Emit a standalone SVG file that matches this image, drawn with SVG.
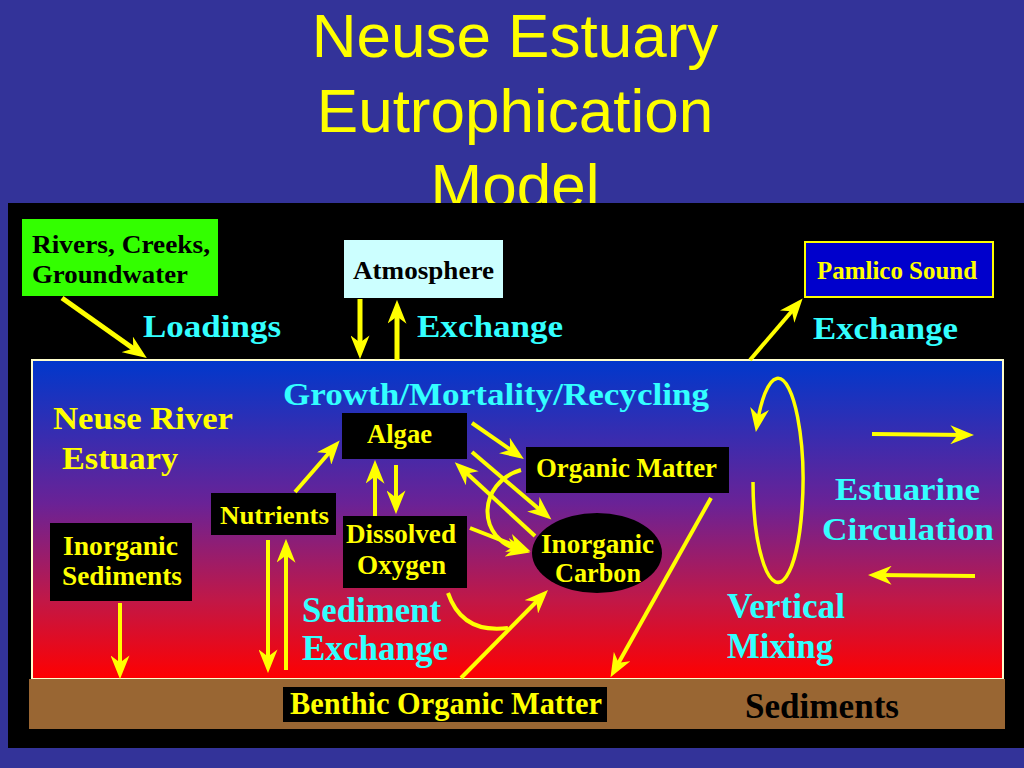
<svg xmlns="http://www.w3.org/2000/svg" width="1024" height="768" viewBox="0 0 1024 768">
<defs>
<linearGradient id="water" x1="0" y1="0" x2="0" y2="1">
<stop offset="0" stop-color="#0038cc"/>
<stop offset="0.45" stop-color="#6a2296"/>
<stop offset="0.75" stop-color="#c01848"/>
<stop offset="1" stop-color="#ff0000"/>
</linearGradient>
<marker id="ah" viewBox="0 0 20 16" refX="14" refY="8" markerWidth="24" markerHeight="19" orient="auto" markerUnits="userSpaceOnUse">
<path d="M0,0 L20,8 L0,16 L6,8 z" fill="#ffff00"/>
</marker>
</defs>
<style>
.title{font-family:"Liberation Sans",Arial,sans-serif;font-size:62px;fill:#ffff00;text-anchor:middle}
.cy{font-family:"Liberation Serif","Times New Roman",serif;font-weight:bold;font-size:32px;fill:#33ffff}
.yl{font-family:"Liberation Serif","Times New Roman",serif;font-weight:bold;font-size:27px;fill:#ffff00}
.bk{font-family:"Liberation Serif","Times New Roman",serif;font-weight:bold;font-size:26px;fill:#000000}
.arr{fill:none;stroke:#ffff00;stroke-width:4;marker-end:url(#ah)}
.thick{stroke-width:5}
.ln{fill:none;stroke:#ffff00;stroke-width:4}
.blk{fill:#000000}
</style>
<rect x="0" y="0" width="1024" height="768" fill="#333399"/>
<g id="title">
<text class="title" x="515" y="57">Neuse Estuary</text>
<text class="title" x="515" y="132">Eutrophication</text>
<text class="title" x="515" y="207">Model</text>
</g>
<rect id="panel" x="8" y="203" width="1016" height="545" fill="#000000"/>
<g id="estuary">
<rect x="32" y="360" width="971" height="319" fill="url(#water)" stroke="#ffffcc" stroke-width="2"/>
<text class="cy" x="283" y="405" textLength="426" lengthAdjust="spacingAndGlyphs">Growth/Mortality/Recycling</text>
<text class="yl" style="font-size:32px" x="53" y="429" textLength="180" lengthAdjust="spacingAndGlyphs">Neuse River</text>
<text class="yl" style="font-size:32px" x="62" y="469" textLength="116" lengthAdjust="spacingAndGlyphs">Estuary</text>
</g>
<g id="sediments">
<rect x="29" y="679" width="976" height="50" fill="#996633"/>
<text class="bk" style="font-size:36px" x="745" y="718" textLength="154" lengthAdjust="spacingAndGlyphs">Sediments</text>
</g>
<g id="rivers">
<rect x="22" y="219" width="196" height="77" fill="#33ff00"/>
<text class="bk" x="32" y="253" textLength="178" lengthAdjust="spacingAndGlyphs">Rivers, Creeks,</text>
<text class="bk" x="32" y="283" textLength="156" lengthAdjust="spacingAndGlyphs">Groundwater</text>
</g>
<g id="atmosphere">
<rect x="344" y="240" width="159" height="58" fill="#ccffff"/>
<text class="bk" style="font-size:25px" x="353" y="279" textLength="141" lengthAdjust="spacingAndGlyphs">Atmosphere</text>
</g>
<g id="pamlico">
<rect x="805" y="242" width="188" height="55" fill="#0000cc" stroke="#ffff00" stroke-width="2"/>
<text class="yl" style="font-size:25px" x="817" y="279" textLength="160" lengthAdjust="spacingAndGlyphs">Pamlico Sound</text>
</g>
<g id="labels">
<text class="cy" x="143" y="337" textLength="138" lengthAdjust="spacingAndGlyphs">Loadings</text>
<text class="cy" x="417" y="337" textLength="146" lengthAdjust="spacingAndGlyphs">Exchange</text>
<text class="cy" x="813" y="339" textLength="145" lengthAdjust="spacingAndGlyphs">Exchange</text>
<text class="cy" x="835" y="500" textLength="145" lengthAdjust="spacingAndGlyphs">Estuarine</text>
<text class="cy" x="822" y="540" textLength="172" lengthAdjust="spacingAndGlyphs">Circulation</text>
<text class="cy" style="font-size:35px" x="302" y="622" textLength="139" lengthAdjust="spacingAndGlyphs">Sediment</text>
<text class="cy" style="font-size:35px" x="302" y="660" textLength="146" lengthAdjust="spacingAndGlyphs">Exchange</text>
<text class="cy" style="font-size:35px" x="727" y="618" textLength="118" lengthAdjust="spacingAndGlyphs">Vertical</text>
<text class="cy" style="font-size:35px" x="727" y="658" textLength="106" lengthAdjust="spacingAndGlyphs">Mixing</text>
</g>
<g id="algae">
<rect class="blk" x="342" y="413" width="125" height="46"/>
<text class="yl" x="367" y="443" textLength="65" lengthAdjust="spacingAndGlyphs">Algae</text>
</g>
<g id="organic-matter">
<rect class="blk" x="526" y="447" width="203" height="46"/>
<text class="yl" style="font-size:28px" x="536" y="477" textLength="181" lengthAdjust="spacingAndGlyphs">Organic Matter</text>
</g>
<g id="nutrients">
<rect class="blk" x="211" y="493" width="125" height="42"/>
<text class="yl" style="font-size:26px" x="220" y="524" textLength="109" lengthAdjust="spacingAndGlyphs">Nutrients</text>
</g>
<g id="dissolved-oxygen">
<rect class="blk" x="343" y="516" width="124" height="72"/>
<text class="yl" x="346" y="543" textLength="110" lengthAdjust="spacingAndGlyphs">Dissolved</text>
<text class="yl" x="357" y="574" textLength="89" lengthAdjust="spacingAndGlyphs">Oxygen</text>
</g>
<g id="inorganic-carbon">
<ellipse class="blk" cx="597" cy="553" rx="65" ry="40"/>
<text class="yl" x="541" y="553" textLength="113" lengthAdjust="spacingAndGlyphs">Inorganic</text>
<text class="yl" x="555" y="582" textLength="86" lengthAdjust="spacingAndGlyphs">Carbon</text>
</g>
<g id="inorganic-sediments">
<rect class="blk" x="50" y="523" width="142" height="78"/>
<text class="yl" x="63" y="555" textLength="115" lengthAdjust="spacingAndGlyphs">Inorganic</text>
<text class="yl" x="62" y="585" textLength="120" lengthAdjust="spacingAndGlyphs">Sediments</text>
</g>
<g id="benthic">
<rect class="blk" x="283" y="687" width="324" height="35"/>
<text class="yl" style="font-size:32px" x="290" y="714" textLength="312" lengthAdjust="spacingAndGlyphs">Benthic Organic Matter</text>
</g>
<g id="connectors">
<path class="arr thick" d="M62,298 L141,354"/>
<path class="arr thick" d="M360,299 L360,352"/>
<path class="arr thick" d="M397,360 L397,307"/>
<path class="arr" d="M750,360 L798,304"/>
<path class="arr" d="M295,492 L335,446"/>
<path class="arr" d="M375,516 L375,467"/>
<path class="arr" d="M396,465 L396,507"/>
<path class="arr" d="M472,423 L518,455"/>
<path class="arr" d="M472,452 L546,515"/>
<path class="arr" d="M535,536 L460,467"/>
<path class="arr" d="M521,470 C478,482 474,540 523,551"/>
<path class="arr" d="M470,528 L524,549"/>
<path class="ln" d="M448,593 Q462,634 508,628"/>
<path class="arr" d="M461,678 L543,595"/>
<path class="arr" d="M711,498 L614,671"/>
<path class="arr" d="M268,540 L268,666"/>
<path class="arr" d="M286,670 L286,546"/>
<path class="arr" d="M120,603 L120,672"/>
<path class="arr" style="stroke-width:3.5" d="M753,482 A25,102 0 1 0 757,425"/>
<path class="arr" d="M872,434 L967,435"/>
<path class="arr" d="M975,576 L875,575"/>
</g>
</svg>
